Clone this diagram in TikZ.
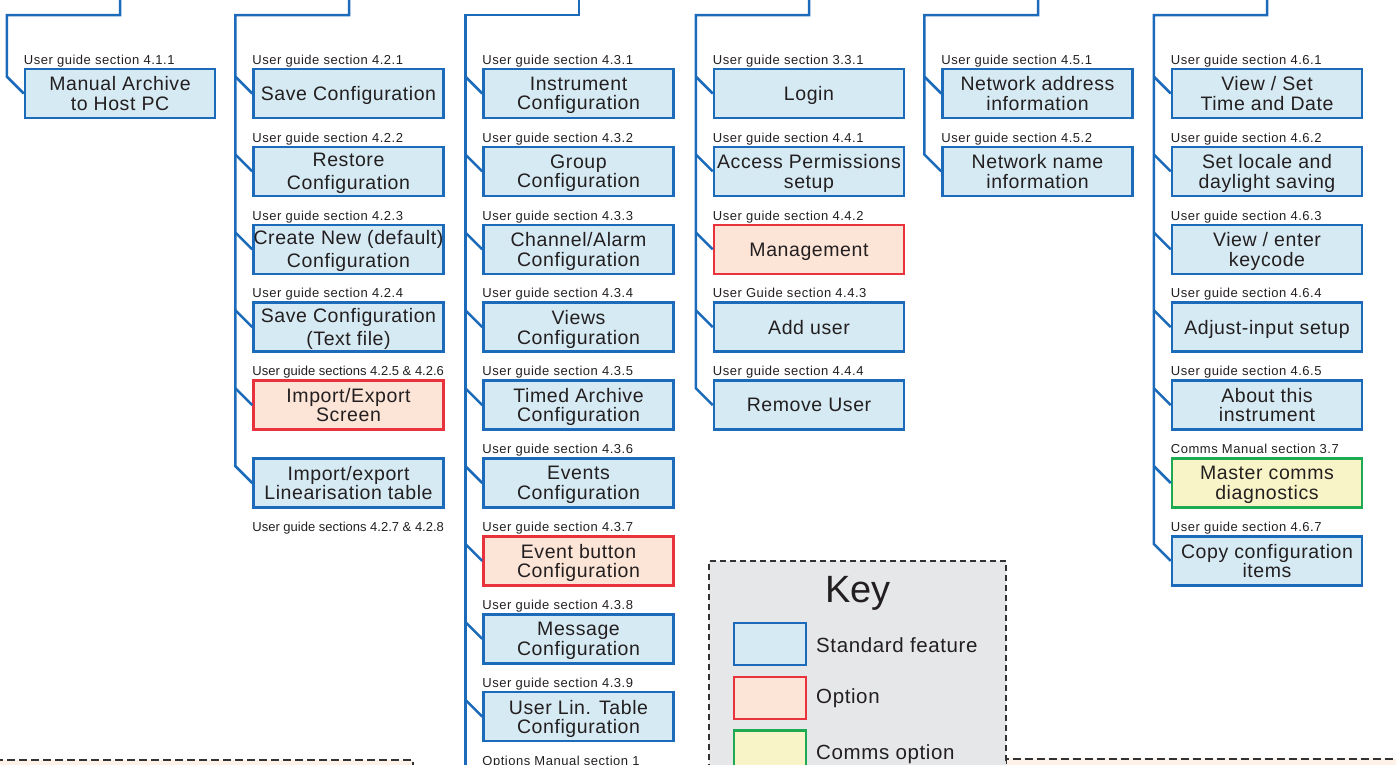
\documentclass[tikz,border=0pt]{standalone}
\usepackage{fontspec}
\setmainfont{Liberation Sans}
\newfontfamily\boxfont{Liberation Sans}[LetterSpace=3]
\newfontfamily\labfont{Liberation Sans}[LetterSpace=4]
\usetikzlibrary{calc}
\definecolor{wireblue}{RGB}{28,107,186}
\definecolor{stdfill}{RGB}{214,234,243}
\definecolor{optdraw}{RGB}{232,50,60}
\definecolor{optfill}{RGB}{252,228,214}
\definecolor{comdraw}{RGB}{30,170,80}
\definecolor{comfill}{RGB}{248,244,200}
\definecolor{keyfill}{RGB}{230,231,233}
\definecolor{peach}{RGB}{253,241,232}
\definecolor{dashcol}{RGB}{50,50,50}
\definecolor{txt}{RGB}{35,31,32}
\tikzset{
 wire/.style={draw=wireblue, line width=2.5pt},
 stdbox/.style={draw=wireblue, fill=stdfill, line width=2.5pt, minimum width=190pt, minimum height=49pt, inner sep=0pt, align=center, text=txt, text depth=0pt, font=\boxfont\fontsize{19.5}{19.5}\selectfont},
 optbox/.style={stdbox, draw=optdraw, fill=optfill},
 combox/.style={stdbox, draw=comdraw, fill=comfill},
 widelines/.style={font=\boxfont\fontsize{19.5}{23}\selectfont},
 lab/.style={anchor=base west, inner sep=0pt, text=txt, font=\labfont\fontsize{13}{15}\selectfont},
 tightlab/.style={lab, font=\fontsize{13}{15}\selectfont},
 bdash/.style={draw=dashcol, line width=2pt, dash pattern=on 8pt off 4pt},
 kdash/.style={draw=dashcol, line width=1.3pt, dash pattern=on 6pt off 4pt},
 keytxt/.style={anchor=base west, inner sep=0pt, text=txt, font=\boxfont\fontsize{20.5}{22}\selectfont},
}
\begin{document}
\begin{tikzpicture}[x=1pt,y=-1pt]
\useasboundingbox (0,0) rectangle (1396,764);
\clip (0,0) rectangle (1396,764);

% bottom cut-off boxes
\fill[peach] (-5,760) rectangle (413,800);
\draw[bdash] (-5,760) -- (413,760) -- (413,800);
\fill[peach] (1006,758.5) rectangle (1410,800);
\draw[bdash] (1006,800) -- (1006,758.5) -- (1410,758.5);

% key
\fill[keyfill] (709,561) rectangle (1006,800);
\draw[kdash] (709,800) -- (709,561) -- (1006,561) -- (1006,800);
\node[anchor=base, inner sep=0pt, text=txt, font=\fontsize{38}{40}\selectfont] (keyt) at (858,602) {Key};
\node[draw=wireblue, fill=stdfill, line width=2.2pt, minimum width=72pt, minimum height=42pt, inner sep=0pt] (ks1) at (770,644) {};
\node[draw=optdraw, fill=optfill, line width=2.2pt, minimum width=72pt, minimum height=42pt, inner sep=0pt] (ks2) at (770,698) {};
\node[draw=comdraw, fill=comfill, line width=2.2pt, minimum width=72pt, minimum height=42pt, inner sep=0pt] (ks3) at (770,751.5) {};
\node[keytxt] (kl1) at (816,652) {Standard feature};
\node[keytxt] (kl2) at (816,703) {Option};
\node[keytxt] (kl3) at (816,759) {Comms option};

% column 1
\node[stdbox] (a1) at (120,93.5) {Manual Archive\\to Host PC};
\node[lab] (la1) at ($(a1.north west)+(0,-3.5)$) {User guide section 4.1.1};
\coordinate (t1) at (120,-3);
\draw[wire] (t1) -- ++(0,18) -| ($(a1.west)+(-17,-17)$) -- (a1.west);

% column 2
\node[stdbox] (b1) at (348.5,93.5) {Save Configuration};
\node[stdbox,widelines] (b2) at (348.5,171.4) {Restore\\Configuration};
\node[stdbox,widelines] (b3) at (348.5,249.3) {Create New (default)\\Configuration};
\node[stdbox,widelines] (b4) at (348.5,327.2) {Save Configuration\\(Text file)};
\node[optbox] (b5) at (348.5,405.1) {Import/Export\\Screen};
\node[stdbox] (b6) at (348.5,483) {Import/export\\Linearisation table};
\node[lab] (lb1) at ($(b1.north west)+(0,-3.5)$) {User guide section 4.2.1};
\node[lab] (lb2) at ($(b2.north west)+(0,-3.5)$) {User guide section 4.2.2};
\node[lab] (lb3) at ($(b3.north west)+(0,-3.5)$) {User guide section 4.2.3};
\node[lab] (lb4) at ($(b4.north west)+(0,-3.5)$) {User guide section 4.2.4};
\node[tightlab] (lb5) at ($(b5.north west)+(0,-3.5)$) {User guide sections 4.2.5 \& 4.2.6};
\node[tightlab] (lb6) at ($(b6.south west)+(0,23)$) {User guide sections 4.2.7 \& 4.2.8};
\coordinate (t2) at (349,-3);
\draw[wire] (t2) -- ++(0,18) -| ($(b6.west)+(-17,-17)$) -- (b6.west);
\foreach \n in {b1,b2,b3,b4,b5} \draw[wire] (\n.west) -- ++(-17,-17);

% column 3
\node[stdbox] (c1) at (578.5,93.5) {Instrument\\Configuration};
\node[stdbox] (c2) at (578.5,171.4) {Group\\Configuration};
\node[stdbox] (c3) at (578.5,249.3) {Channel/Alarm\\Configuration};
\node[stdbox] (c4) at (578.5,327.2) {Views\\Configuration};
\node[stdbox] (c5) at (578.5,405.1) {Timed Archive\\Configuration};
\node[stdbox] (c6) at (578.5,483) {Events\\Configuration};
\node[optbox] (c7) at (578.5,560.9) {Event button\\Configuration};
\node[stdbox] (c8) at (578.5,638.8) {Message\\Configuration};
\node[stdbox] (c9) at (578.5,716.7) {User Lin. Table\\Configuration};
\node[lab] (lc1) at ($(c1.north west)+(0,-3.5)$) {User guide section 4.3.1};
\node[lab] (lc2) at ($(c2.north west)+(0,-3.5)$) {User guide section 4.3.2};
\node[lab] (lc3) at ($(c3.north west)+(0,-3.5)$) {User guide section 4.3.3};
\node[lab] (lc4) at ($(c4.north west)+(0,-3.5)$) {User guide section 4.3.4};
\node[lab] (lc5) at ($(c5.north west)+(0,-3.5)$) {User guide section 4.3.5};
\node[lab] (lc6) at ($(c6.north west)+(0,-3.5)$) {User guide section 4.3.6};
\node[lab] (lc7) at ($(c7.north west)+(0,-3.5)$) {User guide section 4.3.7};
\node[lab] (lc8) at ($(c8.north west)+(0,-3.5)$) {User guide section 4.3.8};
\node[lab] (lc9) at ($(c9.north west)+(0,-3.5)$) {User guide section 4.3.9};
\node[lab] (lc10) at ($(c9.south west)+(0,23.5)$) {Options Manual section 1};
\coordinate (t3) at (579,-3);
\coordinate (t3b) at ($(c9.west)+(-17,80)$);
\draw[wire] (t3) -- ++(0,18) -| (t3b);
\foreach \n in {c1,c2,c3,c4,c5,c6,c7,c8,c9} \draw[wire] (\n.west) -- ++(-17,-17);

% column 4
\node[stdbox] (d1) at (809,93.5) {Login};
\node[stdbox] (d2) at (809,171.4) {Access Permissions\\setup};
\node[optbox] (d3) at (809,249.3) {Management};
\node[stdbox] (d4) at (809,327.2) {Add user};
\node[stdbox] (d5) at (809,405.1) {Remove User};
\node[lab] (ld1) at ($(d1.north west)+(0,-3.5)$) {User guide section 3.3.1};
\node[lab] (ld2) at ($(d2.north west)+(0,-3.5)$) {User guide section 4.4.1};
\node[lab] (ld3) at ($(d3.north west)+(0,-3.5)$) {User guide section 4.4.2};
\node[lab] (ld4) at ($(d4.north west)+(0,-3.5)$) {User Guide section 4.4.3};
\node[lab] (ld5) at ($(d5.north west)+(0,-3.5)$) {User guide section 4.4.4};
\coordinate (t4) at (809,-3);
\draw[wire] (t4) -- ++(0,18) -| ($(d5.west)+(-17,-17)$) -- (d5.west);
\foreach \n in {d1,d2,d3,d4} \draw[wire] (\n.west) -- ++(-17,-17);

% column 5
\node[stdbox] (e1) at (1037.5,93.5) {Network address\\information};
\node[stdbox] (e2) at (1037.5,171.4) {Network name\\information};
\node[lab] (le1) at ($(e1.north west)+(0,-3.5)$) {User guide section 4.5.1};
\node[lab] (le2) at ($(e2.north west)+(0,-3.5)$) {User guide section 4.5.2};
\coordinate (t5) at (1038,-3);
\draw[wire] (t5) -- ++(0,18) -| ($(e2.west)+(-17,-17)$) -- (e2.west);
\draw[wire] (e1.west) -- ++(-17,-17);

% column 6
\node[stdbox] (f1) at (1267,93.5) {View / Set\\Time and Date};
\node[stdbox] (f2) at (1267,171.4) {Set locale and\\daylight saving};
\node[stdbox] (f3) at (1267,249.3) {View / enter\\keycode};
\node[stdbox] (f4) at (1267,327.2) {Adjust-input setup};
\node[stdbox] (f5) at (1267,405.1) {About this\\instrument};
\node[combox] (f6) at (1267,483) {Master comms\\diagnostics};
\node[stdbox] (f7) at (1267,560.9) {Copy configuration\\items};
\node[lab] (lf1) at ($(f1.north west)+(0,-3.5)$) {User guide section 4.6.1};
\node[lab] (lf2) at ($(f2.north west)+(0,-3.5)$) {User guide section 4.6.2};
\node[lab] (lf3) at ($(f3.north west)+(0,-3.5)$) {User guide section 4.6.3};
\node[lab] (lf4) at ($(f4.north west)+(0,-3.5)$) {User guide section 4.6.4};
\node[lab] (lf5) at ($(f5.north west)+(0,-3.5)$) {User guide section 4.6.5};
\node[lab] (lf6) at ($(f6.north west)+(0,-3.5)$) {Comms Manual section 3.7};
\node[lab] (lf7) at ($(f7.north west)+(0,-3.5)$) {User guide section 4.6.7};
\coordinate (t6) at (1267,-3);
\draw[wire] (t6) -- ++(0,18) -| ($(f7.west)+(-17,-17)$) -- (f7.west);
\foreach \n in {f1,f2,f3,f4,f5,f6} \draw[wire] (\n.west) -- ++(-17,-17);
\end{tikzpicture}
\end{document}
